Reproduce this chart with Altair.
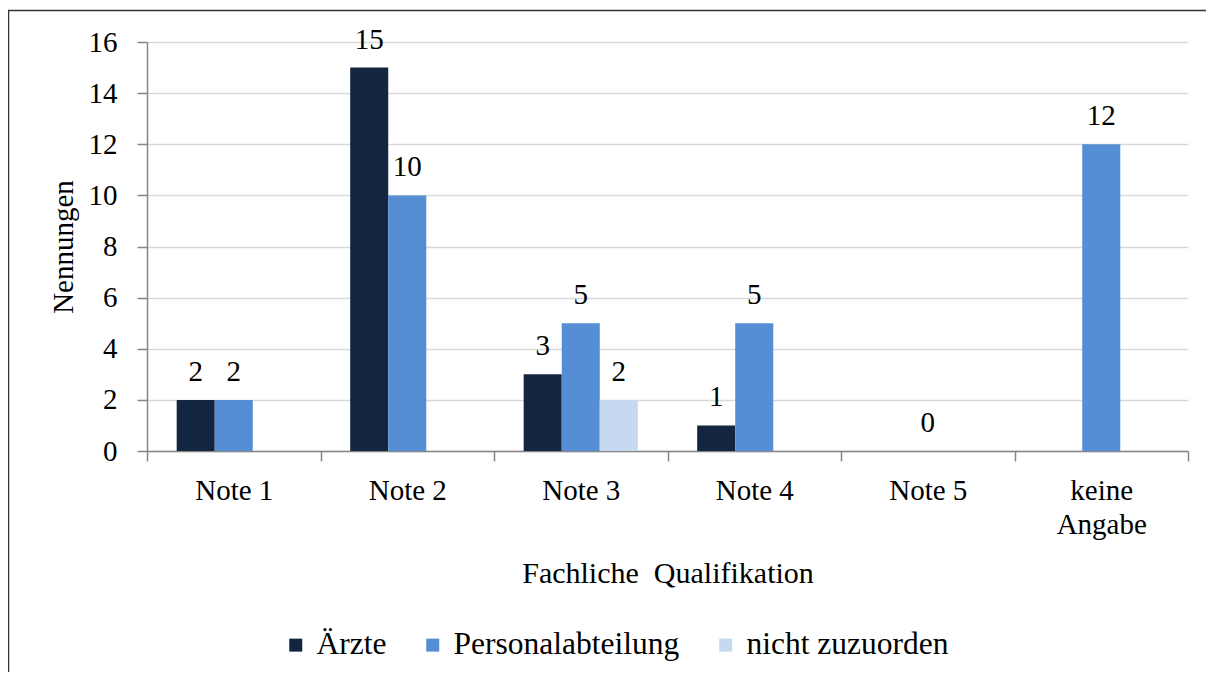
import altair as alt
import pandas as pd

categories = ["Note 1", "Note 2", "Note 3", "Note 4", "Note 5", "keine Angabe"]
series = ["Ärzte", "Personalabteilung", "nicht zuzuorden"]
aerzte = [2, 15, 3, 1, None, None]
personal = [2, 10, 5, 5, 0, 12]
nicht = [None, None, 2, None, None, None]
colors = ["#14263F", "#558ED5", "#C6D9F1"]
y_ticks = [0, 2, 4, 6, 8, 10, 12, 14, 16]

rows = []
for s, vals in zip(series, [aerzte, personal, nicht]):
    for c, v in zip(categories, vals):
        if v is not None:
            rows.append({"cat": c, "series": s, "value": v})
df = pd.DataFrame(rows)

FONT = "'Liberation Serif', 'Times New Roman', Times, serif"
FS = 29
W, H = 1041, 409

x_enc = alt.X(
    "cat:N",
    sort=categories,
    scale=alt.Scale(domain=categories, paddingInner=0, paddingOuter=0),
    axis=alt.Axis(
        title="Fachliche\u00a0 Qualifikation",
        titleFontSize=30,
        labelAngle=0,
        tickBand="extent",
        tickSize=10,
        labelPadding=15,
        labelBaseline="top",
        labelLineHeight=34,
        labelExpr="datum.label == 'keine Angabe' ? ['keine', 'Angabe'] : datum.label",
        titleY=131,
        titleBaseline="alphabetic",
    ),
)
xoff_enc = alt.XOffset(
    "series:N",
    scale=alt.Scale(domain=series, paddingInner=0, paddingOuter=0.78),
)
y_enc = alt.Y(
    "value:Q",
    scale=alt.Scale(domain=[0, 16], nice=False),
    axis=alt.Axis(
        title="Nennungen",
        values=y_ticks,
        tickSize=10,
        labelPadding=20,
        grid=True,
        titleAngle=270,
        titleX=-75,
        titleY=H / 2,
        titleAlign="center",
        titleBaseline="alphabetic",
    ),
)

bars = alt.Chart(df).mark_bar().encode(
    x=x_enc,
    xOffset=xoff_enc,
    y=y_enc,
    color=alt.Color(
        "series:N",
        scale=alt.Scale(domain=series, range=colors),
        legend=alt.Legend(
            title=None,
            orient="none",
            direction="horizontal",
            legendX=133,
            legendY=587,
            symbolType="square",
            symbolSize=169,
            symbolStrokeWidth=0,
            labelFontSize=31.5,
            labelFont=FONT,
            labelColor="black",
            labelOffset=5,
            labelLimit=1000,
            columnPadding=30,
            padding=0,
        ),
    ),
)

labels = alt.Chart(df).mark_text(
    baseline="alphabetic", dy=-19, fontSize=FS, font=FONT, color="black"
).encode(
    x=alt.X("cat:N", sort=categories),
    xOffset=alt.XOffset("series:N"),
    y=alt.Y("value:Q"),
    text=alt.Text("value:Q"),
)

frame_data = alt.Data(values=[{"a": 1}])
left_line = alt.Chart(frame_data).mark_rule(color="#333333", strokeWidth=1.5).encode(
    x=alt.value(-138.5), y=alt.value(-32), y2=alt.value(700)
)
top_line = alt.Chart(frame_data).mark_rule(color="#333333", strokeWidth=1.5).encode(
    x=alt.value(-139), x2=alt.value(1100), y=alt.value(-31.5)
)

chart = alt.layer(bars, labels, left_line, top_line).properties(
    width=W,
    height=H,
    autosize=alt.AutoSizeParams(type="none"),
    padding={"left": 139, "top": 34, "right": 18, "bottom": 221},
).configure_view(stroke=None).configure_axis(
    labelFont=FONT,
    labelFontSize=FS,
    labelColor="black",
    titleFont=FONT,
    titleFontSize=FS,
    titleFontWeight="normal",
    titleColor="black",
    domainColor="#868686",
    domainWidth=1.5,
    tickColor="#868686",
    tickWidth=1.5,
    gridColor="#D9D9D9",
    gridWidth=1.5,
)

chart.save("out.html", embed_options={"renderer": "svg", "actions": False})
